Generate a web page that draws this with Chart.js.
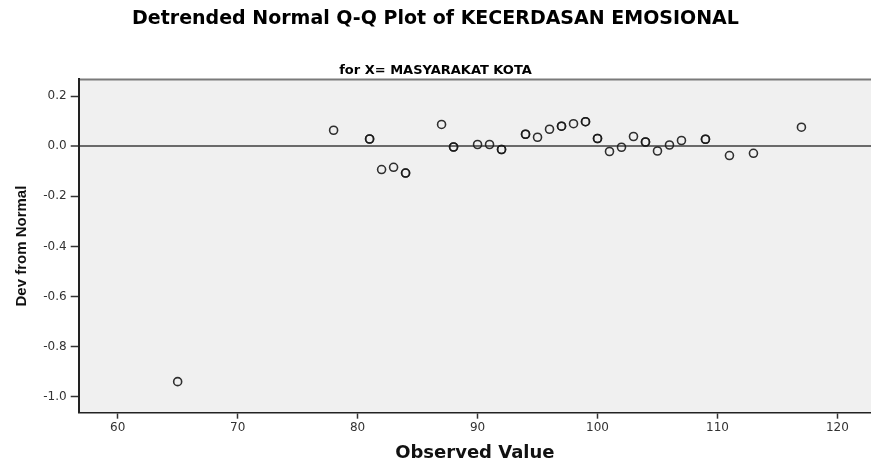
<!DOCTYPE html>
<html>
<head>
<meta charset="utf-8">
<script src="https://cdn.jsdelivr.net/npm/chart.js@4.4.1/dist/chart.umd.min.js"></script>
<style>
  html, body { margin: 0; padding: 0; background: #fff; }
  #wrap { width: 871px; height: 464px; }
</style>
</head>
<body>
<div id="wrap"><canvas id="qq"></canvas></div>
<script>
// observed values and their deviation from normal (repeated values = ties)
const observed = [65, 78, 81, 81, 82, 83, 84, 84, 87, 88, 88, 90, 91, 92, 92, 94, 94, 95, 96,
  97, 97, 98, 99, 99, 100, 100, 101, 102, 103, 104, 104, 105, 106, 107, 109, 109, 111, 113, 117];
const devFromNormal = [-0.94, 0.064, 0.029, 0.029, -0.093, -0.084, -0.107, -0.107, 0.087, -0.003, -0.003,
  0.007, 0.007, -0.013, -0.013, 0.048, 0.048, 0.036, 0.068, 0.080, 0.080, 0.090, 0.098, 0.098,
  0.031, 0.031, -0.021, -0.004, 0.039, 0.017, 0.017, -0.019, 0.005, 0.023, 0.028, 0.028,
  -0.037, -0.028, 0.076];
const xTicks = [60, 70, 80, 90, 100, 110, 120];
const yTicks = [-1.0, -0.8, -0.6, -0.4, -0.2, 0.0, 0.2];

const points = observed.map((x, i) => ({ x: x, y: devFromNormal[i] }));

// grey plot background + thin top frame line
const plotBg = {
  id: 'plotBg',
  beforeDraw(chart) {
    const { ctx, chartArea: a } = chart;
    ctx.save();
    ctx.fillStyle = '#f0f0f0';
    ctx.fillRect(a.left, a.top, a.right - a.left, a.bottom - a.top);
    ctx.strokeStyle = '#7a7a7a';
    ctx.lineWidth = 2;
    ctx.beginPath();
    ctx.moveTo(a.left, a.top);
    ctx.lineTo(a.right, a.top);
    ctx.stroke();
    ctx.restore();
  }
};

new Chart(document.getElementById('qq'), {
  type: 'scatter',
  data: {
    datasets: [{
      data: points,
      pointStyle: 'circle',
      pointRadius: 4,
      pointHoverRadius: 4,
      borderWidth: 1.6,
      borderColor: 'rgba(25,25,25,0.9)',
      backgroundColor: 'rgba(0,0,0,0)'
    }]
  },
  options: {
    responsive: true,
    maintainAspectRatio: false,
    animation: false,
    layout: { padding: 0, autoPadding: false },
    plugins: {
      legend: { display: false },
      tooltip: { enabled: false },
      title: {
        display: true,
        text: 'Detrended Normal Q-Q Plot of KECERDASAN EMOSIONAL',
        color: '#000',
        font: { family: 'DejaVu Sans', size: 19, weight: 'bold', lineHeight: 1.2 },
        padding: { top: 8, bottom: 16 }
      },
      subtitle: {
        display: true,
        text: 'for X= MASYARAKAT KOTA',
        color: '#000',
        font: { family: 'DejaVu Sans', size: 13, weight: 'bold', lineHeight: 1.2 },
        padding: { top: 16, bottom: 1 }
      }
    },
    scales: {
      x: {
        type: 'linear',
        min: 56.75,
        max: 122.8,
        afterFit(s) { s.height = 51.3; s.paddingLeft = 0; s.paddingRight = 0; },
        afterBuildTicks(s) { s.ticks = xTicks.map(v => ({ value: v })); },
        border: { display: true, color: '#222', width: 1.5 },
        grid: { drawOnChartArea: false, drawTicks: true, tickLength: 6, tickColor: '#333', tickWidth: 1.5 },
        ticks: {
          padding: 2,
          color: '#333',
          font: { family: 'DejaVu Sans', size: 12 },
          maxRotation: 0
        },
        title: {
          display: true,
          text: 'Observed Value',
          color: '#111',
          font: { family: 'DejaVu Sans', size: 18, weight: 'bold', lineHeight: 1.2 },
          padding: { top: 0, bottom: 0 }
        }
      },
      y: {
        type: 'linear',
        min: -1.064,
        max: 0.267,
        afterFit(s) { s.width = 78.7; s.paddingTop = 0; s.paddingBottom = 0; },
        afterBuildTicks(s) { s.ticks = yTicks.map(v => ({ value: v })); },
        border: { display: true, color: '#222', width: 2 },
        grid: {
          drawOnChartArea: true,
          drawTicks: true,
          tickLength: 8,
          tickColor: '#333',
          tickWidth: 1.5,
          color: c => (c.tick && c.tick.value === 0 ? '#6a6a6a' : 'rgba(0,0,0,0)'),
          lineWidth: c => (c.tick && c.tick.value === 0 ? 2 : 1)
        },
        ticks: {
          padding: 4,
          color: '#333',
          font: { family: 'DejaVu Sans', size: 12 },
          callback: v => v.toFixed(1)
        },
        title: {
          display: true,
          text: 'Dev from Normal',
          color: '#111',
          font: { family: 'Liberation Sans', size: 15, weight: 'bold', lineHeight: 1.2 },
          padding: { top: 13, bottom: 0 }
        }
      }
    }
  },
  plugins: [plotBg]
});
</script>
</body>
</html>
